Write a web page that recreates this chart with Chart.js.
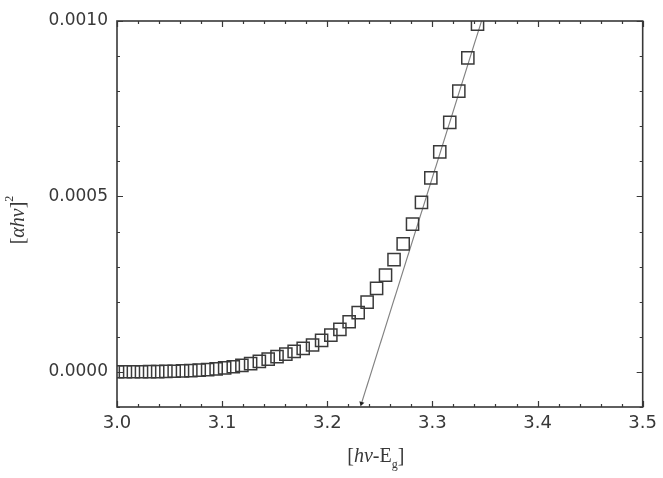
<!DOCTYPE html>
<html><head><meta charset="utf-8">
<script src="https://cdn.jsdelivr.net/npm/chart.js@4/dist/chart.umd.min.js"></script>
<style>html,body{margin:0;padding:0;background:#fff}#wrap{width:663px;height:478px}</style>
</head><body><div id="wrap"><canvas id="c" width="663" height="478"></canvas></div>
<script>
// photon energy (eV) of each measured point
const energy = [3.0005, 3.0080, 3.0156, 3.0233, 3.0310, 3.0387, 3.0465, 3.0544, 3.0623, 3.0702,
  3.0782, 3.0862, 3.0943, 3.1024, 3.1106, 3.1188, 3.1271, 3.1354, 3.1438, 3.1522,
  3.1606, 3.1685, 3.1771, 3.1860, 3.1946, 3.2034, 3.2120, 3.2208, 3.2294, 3.2379,
  3.2469, 3.2554, 3.2635, 3.2722, 3.2811, 3.2896, 3.2985, 3.3070, 3.3165, 3.3251,
  3.3337, 3.3429];
// (alpha h nu)^2 values
const ahv2 = [0.0000005, 0.0000005, 0.0000005, 0.0000005, 0.0000007, 0.0000010, 0.0000015, 0.0000020, 0.0000028, 0.0000038,
  0.0000050, 0.0000066, 0.0000086, 0.0000114, 0.0000148, 0.0000187, 0.0000238, 0.0000300, 0.0000365, 0.0000436,
  0.0000508, 0.0000586, 0.0000672, 0.0000766, 0.0000900, 0.0001050, 0.0001210, 0.0001430, 0.0001690, 0.0001990,
  0.0002380, 0.0002760, 0.0003200, 0.0003650, 0.0004210, 0.0004830, 0.0005530, 0.0006270, 0.0007110, 0.0008000,
  0.0008950, 0.0009910];
// linear fit (extrapolation) line end points
const fitX = [3.2325, 3.3467];
const fitY = [-0.000090, 0.0010];
// tick labels
const xTicks = [3.0, 3.1, 3.2, 3.3, 3.4, 3.5];
const yTicks = [0.0000, 0.0005, 0.0010];
// axis titles (rich text pieces)
const xTitle = [['[', 'n'], ['hν', 'i'], ['-E', 'n'], ['g', 'sub'], [']', 'n']];
const yTitle = [['[', 'n'], ['αhν', 'i'], [']', 'n'], ['2', 'sup']];

const INK = '#383838';
const X_MIN = 3.0, X_MAX = 3.5, X_MINOR = 0.02;
const Y_MIN = -0.0001, Y_MAX = 0.0010, Y_MINOR = 0.0001;

function drawRich(ctx, pieces, size) {
  const fam = '"Liberation Serif", "Times New Roman", serif';
  const fontFor = (k) => k === 'i' ? `italic ${size}px ${fam}` :
                         (k === 'sub' || k === 'sup') ? `${Math.round(size*0.62)}px ${fam}` : `${size}px ${fam}`;
  let w = 0;
  pieces.forEach(([t, k]) => { ctx.font = fontFor(k); w += ctx.measureText(t).width; });
  let x = -w / 2;
  ctx.textBaseline = 'alphabetic';
  ctx.textAlign = 'left';
  pieces.forEach(([t, k]) => {
    ctx.font = fontFor(k);
    const dy = k === 'sub' ? size*0.3 : k === 'sup' ? -size*0.55 : 0;
    ctx.fillText(t, x, dy);
    x += ctx.measureText(t).width;
  });
}

const framePlugin = {
  id: 'frame',
  afterDatasetsDraw(chart) {
    const { ctx, chartArea: { left, right, top, bottom }, scales: { x, y } } = chart;
    ctx.save();
    ctx.strokeStyle = INK;
    ctx.lineWidth = 1.6;
    ctx.strokeRect(left, top, right - left, bottom - top);
    ctx.lineWidth = 1.2;
    ctx.beginPath();
    const nx = Math.round((X_MAX - X_MIN) / X_MINOR);
    for (let i = 0; i <= nx; i++) {
      const px = Math.round(x.getPixelForValue(X_MIN + i * X_MINOR)) + 0.5;
      const L = i % 5 === 0 ? 6 : 3;
      ctx.moveTo(px, bottom); ctx.lineTo(px, bottom - L);
      ctx.moveTo(px, top); ctx.lineTo(px, top + L);
    }
    const ny = Math.round((Y_MAX - Y_MIN) / Y_MINOR);
    for (let i = 0; i <= ny; i++) {
      const v = Y_MIN + i * Y_MINOR;
      const py = Math.round(y.getPixelForValue(v)) + 0.5;
      const major = Math.abs(Math.round(v / Y_MINOR)) % 5 === 0;
      const L = major ? 6 : 3;
      ctx.moveTo(left, py); ctx.lineTo(left + L, py);
      ctx.moveTo(right, py); ctx.lineTo(right - L, py);
    }
    ctx.stroke();
    // axis titles
    ctx.fillStyle = INK;
    ctx.save();
    ctx.translate((left + right) / 2 - 4, 462);
    drawRich(ctx, xTitle, 20);
    ctx.restore();
    ctx.save();
    ctx.translate(24, (top + bottom) / 2 + 6);
    ctx.rotate(-Math.PI / 2);
    drawRich(ctx, yTitle, 20);
    ctx.restore();
    ctx.restore();
  }
};

const tickFont = { family: '"DejaVu Sans", sans-serif', size: 17 };

new Chart(document.getElementById('c'), {
  type: 'scatter',
  data: {
    datasets: [
      {
        label: '(αhν)²',
        data: energy.map((e, i) => ({ x: e, y: ahv2[i] })),
        pointStyle: 'rect',
        pointRadius: 8.6,
        pointBorderWidth: 1.5,
        borderColor: '#3a3a3a',
        backgroundColor: 'rgba(0,0,0,0)',
        showLine: false,
        clip: 0
      },
      {
        label: 'fit',
        type: 'line',
        data: fitX.map((e, i) => ({ x: e, y: fitY[i] })),
        borderColor: '#808080',
        borderWidth: 1.1,
        pointStyle: 'triangle',
        pointRadius: [3, 0],
        pointRotation: 197,
        pointBackgroundColor: '#222',
        pointBorderColor: '#222',
        pointBorderWidth: 0,
        fill: false,
        clip: 0
      }
    ]
  },
  options: {
    responsive: false,
    animation: false,
    events: [],
    layout: { padding: { left: 0, right: 20, top: 21, bottom: 0 } },
    plugins: { legend: { display: false }, tooltip: { enabled: false } },
    scales: {
      x: {
        type: 'linear', min: X_MIN, max: X_MAX,
        grid: { display: false, drawTicks: false },
        border: { display: false },
        afterBuildTicks: (s) => { s.ticks = xTicks.map(v => ({ value: v })); },
        afterFit: (s) => { s.height = 71; },
        ticks: { color: INK, font: { family: '"DejaVu Sans", sans-serif', size: 18 }, padding: 6, maxRotation: 0, autoSkip: false,
          callback: (v) => Number(v).toFixed(1) }
      },
      y: {
        type: 'linear', min: Y_MIN, max: Y_MAX,
        grid: { display: false, drawTicks: false },
        border: { display: false },
        afterBuildTicks: (s) => { s.ticks = yTicks.map(v => ({ value: v })); },
        afterFit: (s) => { s.width = 117; },
        ticks: { color: INK, font: tickFont, padding: 9, autoSkip: false,
          callback: (v) => Number(v).toFixed(4) }
      }
    }
  },
  plugins: [framePlugin]
});
</script>
</body></html>
